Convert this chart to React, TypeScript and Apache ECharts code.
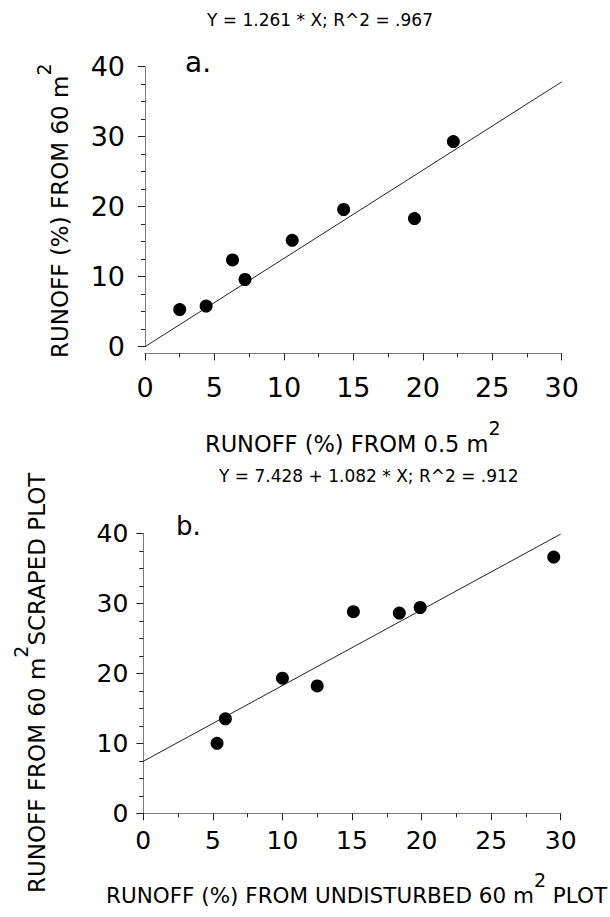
import React, { useEffect, useRef } from "react";
import * as echarts from "echarts";

const FONT = "DejaVu Sans";

// Panel a
const titleA = "Y = 1.261 * X; R^2 = .967";
const panelLabelA = "a.";
const xTitleA = "RUNOFF (%) FROM 0.5 m";
const yTitleA = "RUNOFF (%) FROM 60 m";
const runoffSmallPlot = [2.5, 4.4, 6.3, 7.2, 10.6, 14.3, 19.4, 22.2];
const runoff60mA = [5.3, 5.8, 12.4, 9.6, 15.2, 19.6, 18.3, 29.3];
const fitLineA: [number, number][] = [
  [0, 0],
  [30, 37.83],
];

// Panel b
const titleB = "Y = 7.428 + 1.082 * X; R^2 = .912";
const panelLabelB = "b.";
const xTitleB = "RUNOFF (%) FROM UNDISTURBED 60 m";
const xTitleBTail = "PLOT";
const yTitleB = "RUNOFF FROM 60 m";
const yTitleBTail = "SCRAPED PLOT";
const runoffUndisturbed = [5.3, 5.9, 10.0, 12.5, 15.1, 18.4, 19.9, 29.5];
const runoffScraped = [10.0, 13.5, 19.3, 18.2, 28.8, 28.6, 29.4, 36.6];
const fitLineB: [number, number][] = [
  [0, 7.43],
  [30, 39.89],
];

const SUP_RAISE = 16;
const SUP_SIZE = 19;

function xAxis(gridIndex: number, fontSize: number, margin: number, offset: number) {
  return {
    type: "value",
    gridIndex,
    min: 0,
    max: 30,
    interval: 5,
    offset,
    axisLine: { show: true, onZero: false, lineStyle: { color: "#7a7a7a", width: 1 } },
    axisTick: { show: true, length: 7, lineStyle: { color: "#222", width: 1 } },
    minorTick: { show: true, splitNumber: 2, length: 4, lineStyle: { color: "#222", width: 1 } },
    splitLine: { show: false },
    minorSplitLine: { show: false },
    axisLabel: { fontSize, fontFamily: FONT, color: "#000", margin },
  };
}

function yAxis(gridIndex: number, fontSize: number, margin: number) {
  return {
    type: "value",
    gridIndex,
    min: 0,
    max: 40,
    interval: 10,
    axisLine: { show: true, onZero: false, lineStyle: { color: "#7a7a7a", width: 1 } },
    axisTick: { show: true, length: 7, lineStyle: { color: "#222", width: 1 } },
    minorTick: { show: true, splitNumber: 4, length: 4, lineStyle: { color: "#222", width: 1 } },
    splitLine: { show: false },
    minorSplitLine: { show: false },
    axisLabel: { fontSize, fontFamily: FONT, color: "#000", margin },
  };
}

function supText(
  main: string,
  tail: string,
  fontSize: number,
  x: number,
  y: number,
  rotation: number
) {
  const L = 2 * SUP_RAISE + fontSize;
  return {
    type: "text",
    x,
    y,
    rotation,
    silent: true,
    style: {
      text: `{m|${main}}{s|2}` + (tail ? `{m|${tail}}` : ""),
      align: "left",
      verticalAlign: "middle",
      fill: "#000",
      rich: {
        m: { fontSize, fontFamily: FONT, lineHeight: fontSize, verticalAlign: "bottom", fill: "#000" },
        s: { fontSize: SUP_SIZE, fontFamily: FONT, lineHeight: L, fill: "#000" },
      },
    },
  };
}

export default function App() {
  const ref = useRef<HTMLDivElement>(null);

  useEffect(() => {
    if (!ref.current) return;
    const chart = echarts.init(ref.current, null, { renderer: "svg" });
    const option: any = {
      animation: false,
      backgroundColor: "#fff",
      grid: [
        { left: 145, top: 66.7, width: 416.7, height: 280, containLabel: false, outerBoundsMode: "none" },
        { left: 143.3, top: 533.3, width: 417.4, height: 280, containLabel: false, outerBoundsMode: "none" },
      ],
      xAxis: [xAxis(0, 27, 21, 6.7), xAxis(1, 25, 15, 0)],
      yAxis: [yAxis(0, 27, 20), yAxis(1, 25, 15)],
      series: [
        {
          type: "line",
          xAxisIndex: 0,
          yAxisIndex: 0,
          data: fitLineA,
          showSymbol: false,
          silent: true,
          lineStyle: { color: "#222", width: 1 },
          z: 1,
        },
        {
          type: "scatter",
          xAxisIndex: 0,
          yAxisIndex: 0,
          data: runoffSmallPlot.map((v, i) => [v, runoff60mA[i]]),
          symbolSize: 13,
          itemStyle: { color: "#000", opacity: 1 },
          z: 2,
        },
        {
          type: "line",
          xAxisIndex: 1,
          yAxisIndex: 1,
          data: fitLineB,
          showSymbol: false,
          silent: true,
          lineStyle: { color: "#222", width: 1 },
          z: 1,
        },
        {
          type: "scatter",
          xAxisIndex: 1,
          yAxisIndex: 1,
          data: runoffUndisturbed.map((v, i) => [v, runoffScraped[i]]),
          symbolSize: 13,
          itemStyle: { color: "#000", opacity: 1 },
          z: 2,
        },
      ],
      graphic: [
        {
          type: "text",
          x: 207,
          y: 19.5,
          silent: true,
          style: { text: titleA, fontSize: 17, fontFamily: FONT, fill: "#000", align: "left", verticalAlign: "middle" },
        },
        {
          type: "text",
          x: 185,
          y: 62.5,
          silent: true,
          style: { text: panelLabelA, fontSize: 28, fontFamily: FONT, fill: "#000", align: "left", verticalAlign: "middle" },
        },
        supText(xTitleA, "", 22.5, 205, 444 - SUP_RAISE, 0),
        supText(yTitleA, "", 23, 60 - SUP_RAISE, 358, Math.PI / 2),
        {
          type: "text",
          x: 219,
          y: 476,
          silent: true,
          style: { text: titleB, fontSize: 17, fontFamily: FONT, fill: "#000", align: "left", verticalAlign: "middle" },
        },
        {
          type: "text",
          x: 176,
          y: 526,
          silent: true,
          style: { text: panelLabelB, fontSize: 26, fontFamily: FONT, fill: "#000", align: "left", verticalAlign: "middle" },
        },
        supText(xTitleB, " " + xTitleBTail, 21.5, 106, 896 - SUP_RAISE, 0),
        supText(yTitleB, yTitleBTail, 23, 37 - SUP_RAISE, 893, Math.PI / 2),
      ],
    };
    chart.setOption(option);
    return () => chart.dispose();
  }, []);

  return (
    <div
      ref={ref}
      style={{ position: "absolute", left: 0, top: 0, width: 610, height: 917, background: "#fff" }}
    />
  );
}
